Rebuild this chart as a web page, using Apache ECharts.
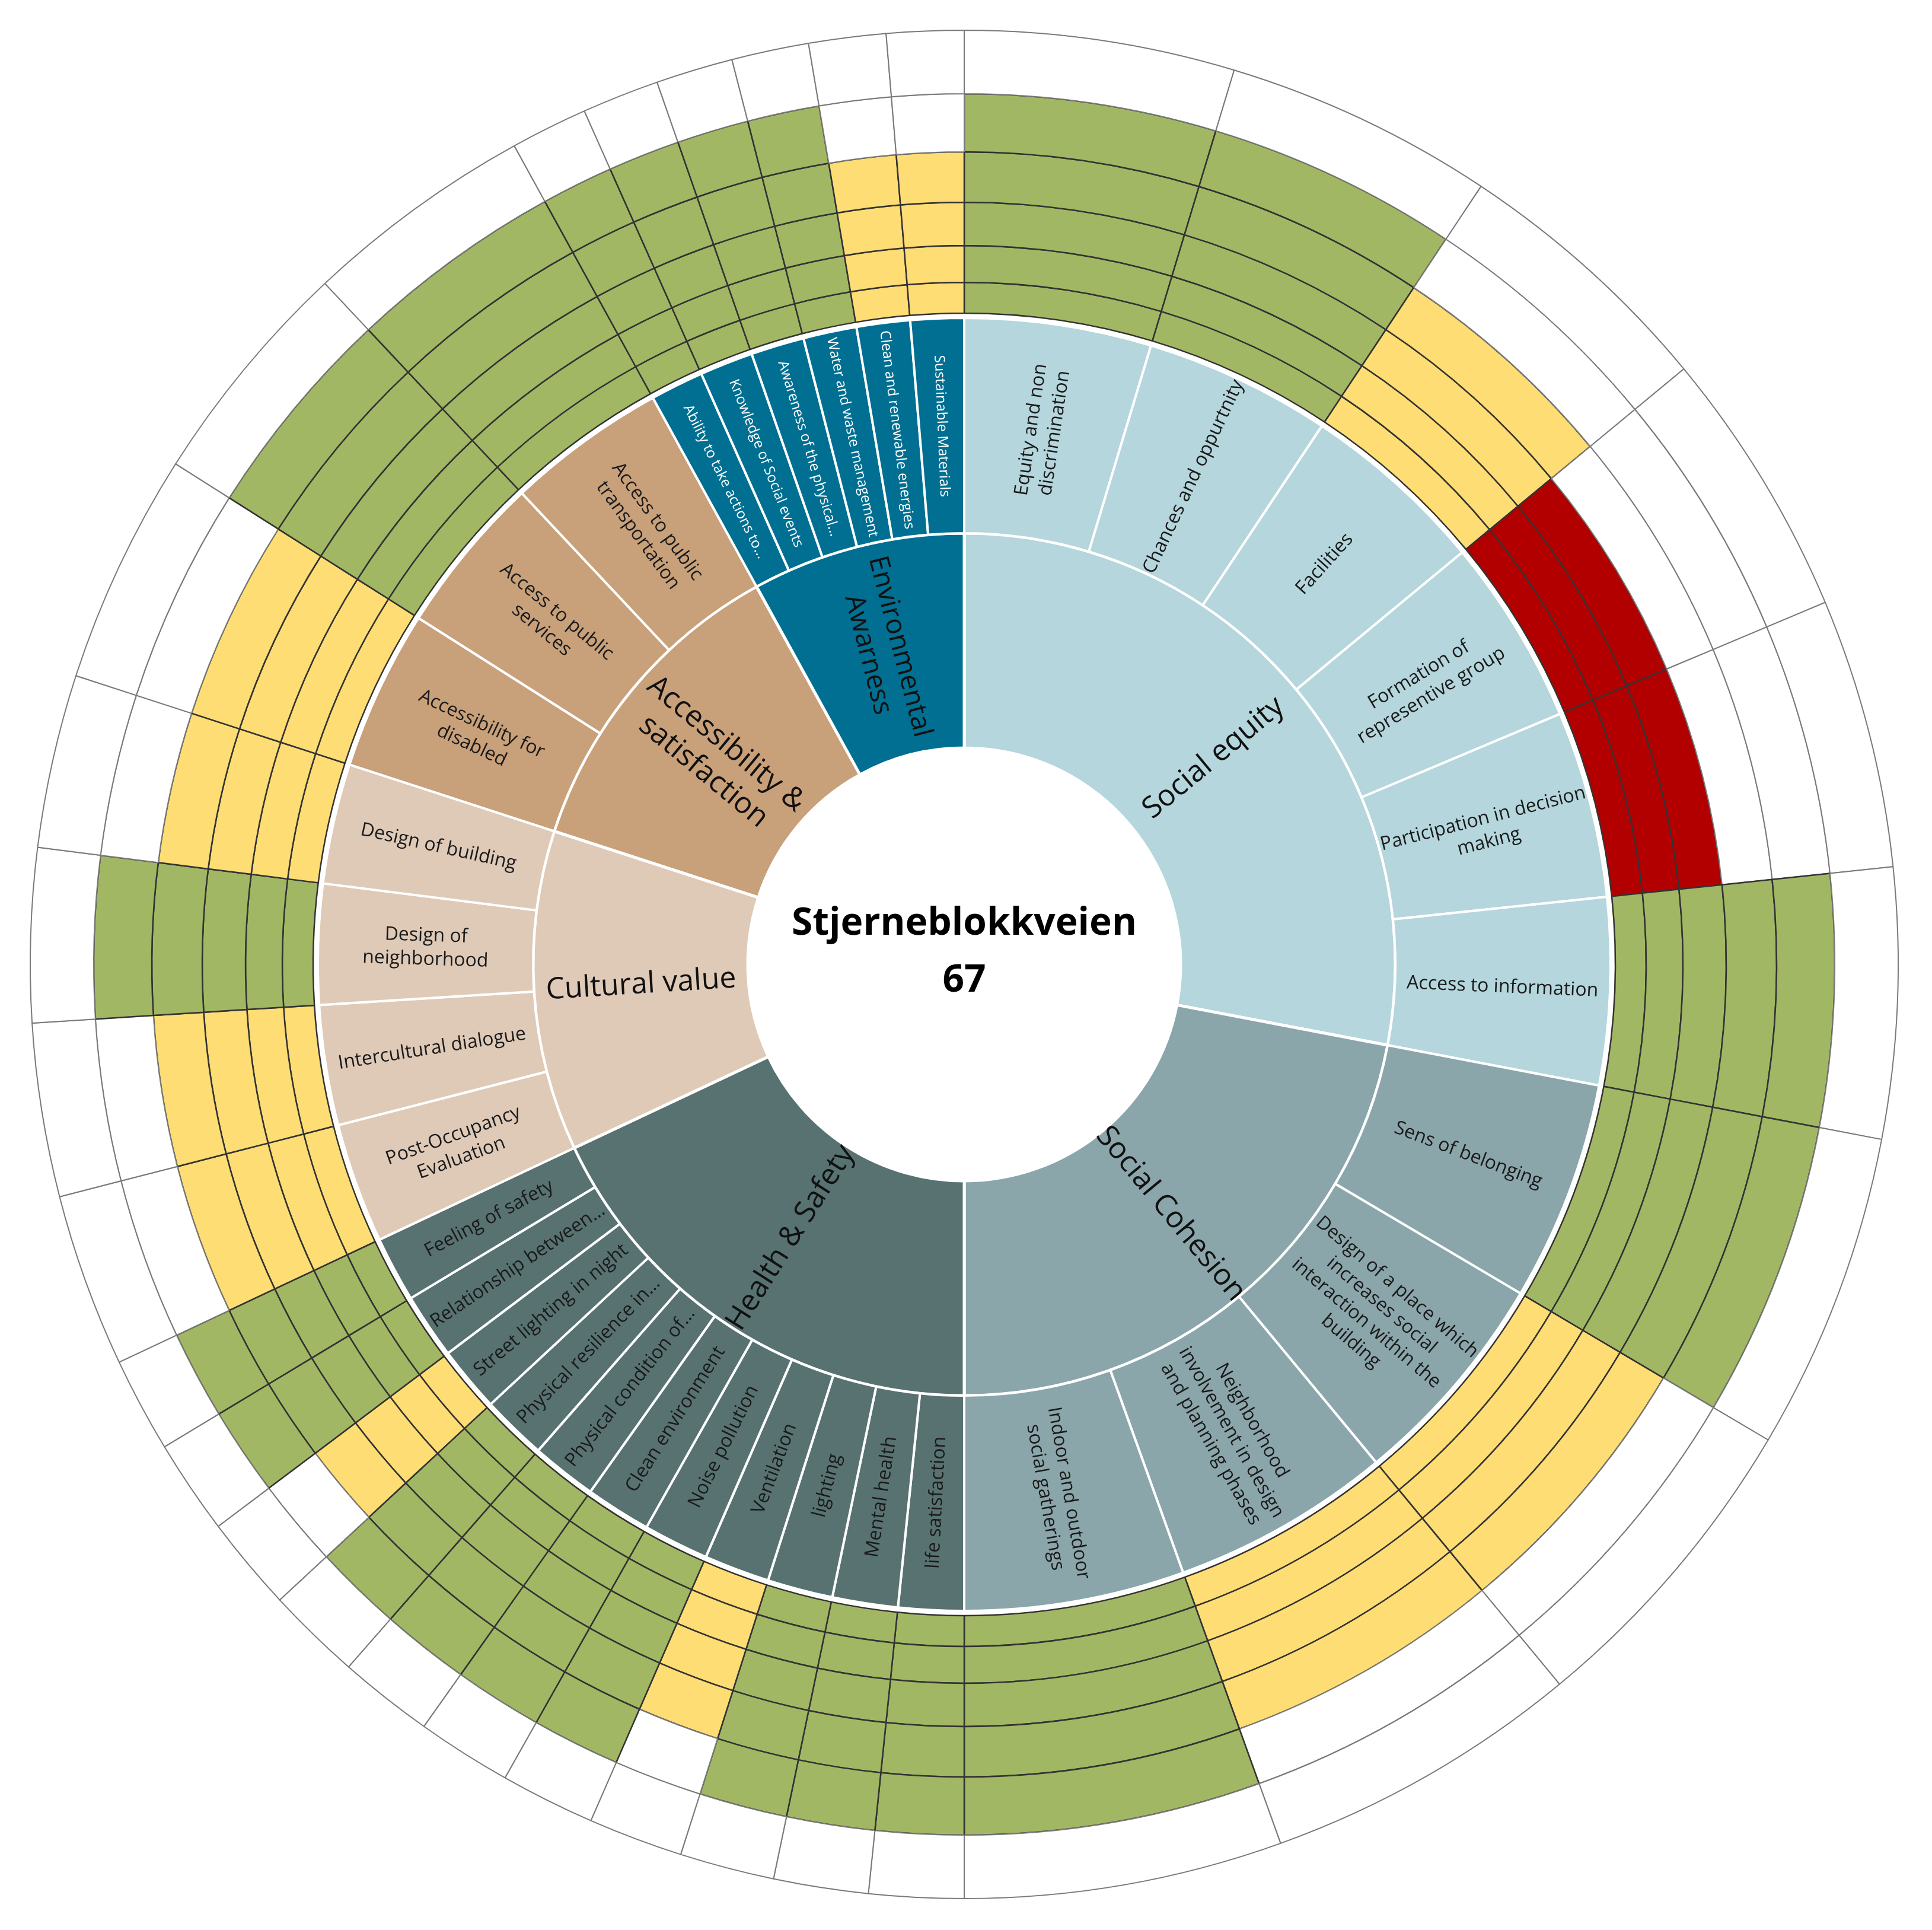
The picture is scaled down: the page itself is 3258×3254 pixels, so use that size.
<!DOCTYPE html>
<html>
<head>
<meta charset="utf-8">
<title>Stjerneblokkveien 67</title>
<script src="https://cdn.jsdelivr.net/npm/echarts@6/dist/echarts.min.js"></script>
<style>
  html, body { margin: 0; padding: 0; background: #fff; }
  #chart { width: 3258px; height: 3254px; }
</style>
</head>
<body>
<div id="chart"></div>
<script>
// categories, clockwise from 12 o'clock
var categoryNames = [
  'Social equity',
  'Social Cohesion',
  'Health & Safety',
  'Cultural value',
  'Accessibility &\nsatisfaction',
  'Environmental\nAwarness'
];
// share of the full circle (%)
var categoryWeights = [28, 22, 18, 12, 12, 8];

var subcategoryNames = [
  ['Equity and non\ndiscrimination', 'Chances and oppurtnity', 'Facilities',
   'Formation of\nrepresentive group', 'Participation in decision\nmaking', 'Access to information'],
  ['Sens of belonging', 'Design of a place which\nincreases social\ninteraction within the\nbuilding',
   'Neighborhood\ninvolvement in design\nand planning phases', 'Indoor and outdoor\nsocial gatherings'],
  ['life satisfaction', 'Mental health', 'lighting', 'Ventilation', 'Noise pollution',
   'Clean environment', 'Physical condition of…', 'Physical resilience in…',
   'Street lighting in night', 'Relationship between…', 'Feeling of safety'],
  ['Post-Occupancy\nEvaluation', 'Intercultural dialogue', 'Design of\nneighborhood', 'Design of building'],
  ['Accessibility for\ndisabled', 'Access to public\nservices', 'Access to public\ntransportation'],
  ['Ability to take actions to…', 'Knowledge of Social events', 'Awareness of the physical…',
   'Water and waste management', 'Clean and renewable energies', 'Sustainable Materials']
];

// number of filled rings (out of 6) for each subcategory
var scores = [
  [5, 5, 4, 3, 3, 5],
  [5, 4, 4, 5],
  [5, 5, 5, 4, 5, 5, 5, 5, 4, 5, 5],
  [4, 4, 5, 4],
  [4, 5, 5],
  [5, 5, 5, 5, 4, 4]
];
var ringCount = 6;

// styles
var categoryColors = ['#b4d6dc', '#8ba6ab', '#587272', '#dfcab8', '#c8a07a', '#006f91'];
var catLabelSizes = [50, 50, 50, 50, 50, 46];
var subLabelColors = ['#1a1a1a', '#1a1a1a', '#1a1a1a', '#1a1a1a', '#1a1a1a', '#ffffff'];
var subLabelSizes = [32, 32, 32, 32, 32, 24];
var ratingColors = { 3: '#b20000', 4: '#fedd75', 5: '#a2b764' };
var ringRadii = [1098, 1150, 1212, 1285, 1370, 1468, 1575];
var center = [1626, 1626];

function ringNode(level, score, value) {
  var filled = level <= score;
  var node = {
    name: '',
    value: value,
    itemStyle: filled
      ? { color: ratingColors[score], borderColor: '#333333', borderWidth: 2.5 }
      : { color: '#ffffff', borderColor: '#7a7a7a', borderWidth: 2 },
    label: { show: false }
  };
  if (level < ringCount) {
    node.children = [ringNode(level + 1, score, value)];
  }
  return node;
}

var data = categoryNames.map(function (cat, i) {
  var subs = subcategoryNames[i];
  var w = categoryWeights[i] / subs.length;
  return {
    name: cat,
    value: categoryWeights[i],
    itemStyle: { color: categoryColors[i] },
    label: { fontSize: catLabelSizes[i], lineHeight: catLabelSizes[i] * 1.2 },
    children: subs.map(function (sub, j) {
      return {
        name: sub,
        value: w,
        itemStyle: { color: categoryColors[i] },
        label: { color: subLabelColors[i], fontSize: subLabelSizes[i], lineHeight: subLabelSizes[i] * 1.25 },
        children: [ringNode(1, scores[i][j], w)]
      };
    })
  };
});

var levels = [
  {},
  {
    r0: 365, r: 727,
    itemStyle: { borderColor: '#ffffff', borderWidth: 5 },
    label: { rotate: 'radial', color: '#111111', fontFamily: 'Open Sans' }
  },
  {
    r0: 727, r: 1090,
    itemStyle: { borderColor: '#ffffff', borderWidth: 4 },
    label: { rotate: 'radial', fontFamily: 'Open Sans' }
  }
];
for (var k = 0; k < ringCount; k += 1) {
  levels.push({ r0: ringRadii[k], r: ringRadii[k + 1], label: { show: false } });
}

var chart = echarts.init(document.getElementById('chart'), null, { renderer: 'canvas' });
chart.setOption({
  animation: false,
  backgroundColor: '#ffffff',
  graphic: [
    {
      type: 'text',
      x: center[0],
      y: 1606,
      style: {
        text: 'Stjerneblokkveien\n67',
        fontFamily: 'Open Sans',
        fontWeight: 'bold',
        fontSize: 64,
        lineHeight: 96,
        fill: '#000000',
        align: 'center',
        verticalAlign: 'middle'
      },
      z: 100
    }
  ],
  series: [
    {
      type: 'sunburst',
      center: center,
      radius: [0, ringRadii[ringCount]],
      sort: null,
      startAngle: 90,
      clockwise: true,
      nodeClick: false,
      emphasis: { disabled: true },
      data: data,
      levels: levels
    }
  ]
});
</script>
</body>
</html>
